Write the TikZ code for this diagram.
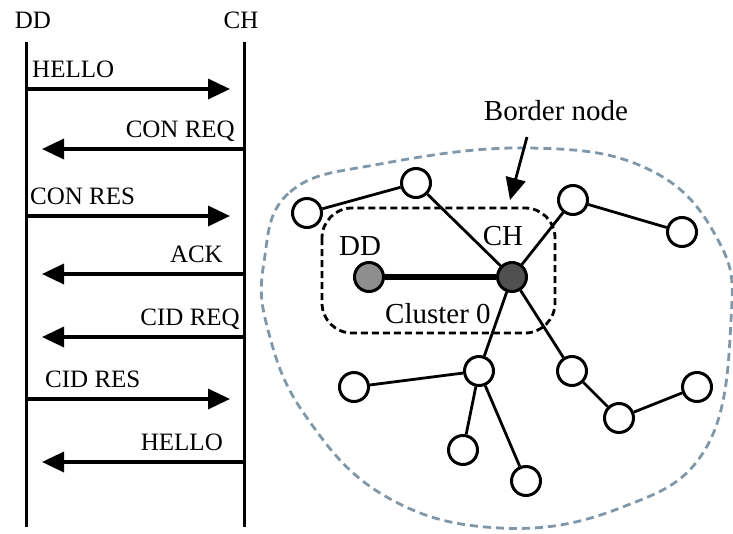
\documentclass[tikz,border=0pt]{standalone}
\usepackage{fontspec}
\setmainfont{Liberation Serif}
\usetikzlibrary{arrows.meta, positioning}
\definecolor{colorBorder}{HTML}{7F97A8}
\definecolor{colorDD}{HTML}{8E8E8E}
\definecolor{colorCH}{HTML}{505050}
\tikzset{msgtext/.style={inner sep=0pt, font=\fontsize{25}{30}\selectfont},
  nettext/.style={inner sep=0pt, font=\fontsize{29}{35}\selectfont},
  lifeline/.style={line width=3pt},
  msg/.style={line width=3.5pt, -{Triangle[length=22pt,width=20pt]}},
  sensor/.style={circle, draw, line width=3pt, fill=white, minimum size=29pt, inner sep=0pt},
  link/.style={line width=2.8pt}}

\begin{document}
\begin{tikzpicture}[x=1pt, y=-1pt]
\useasboundingbox (0,0) rectangle (733,533);
% sequence of messages between DD and CH
\node[msgtext, anchor=base] (ddTop) at (33,28) {DD};
\node[msgtext, anchor=base] (chTop) at (241,28) {CH};
\coordinate (ddEnd) at (26,527);
\coordinate (chEnd) at (244,527);
\draw[lifeline] (26,42) -- (ddEnd);
\draw[lifeline] (244,42) -- (chEnd);
\coordinate (m1a) at (26,89);  \coordinate (m1b) at (230,89);
\coordinate (m2a) at (244,149); \coordinate (m2b) at (42,149);
\coordinate (m3a) at (26,216); \coordinate (m3b) at (230,216);
\coordinate (m4a) at (244,274); \coordinate (m4b) at (42,274);
\coordinate (m5a) at (244,337); \coordinate (m5b) at (42,337);
\coordinate (m6a) at (26,399); \coordinate (m6b) at (230,399);
\coordinate (m7a) at (244,462); \coordinate (m7b) at (42,462);
\draw[msg] (m1a) -- (m1b);
\draw[msg] (m2a) -- (m2b);
\draw[msg] (m3a) -- (m3b);
\draw[msg] (m4a) -- (m4b);
\draw[msg] (m5a) -- (m5b);
\draw[msg] (m6a) -- (m6b);
\draw[msg] (m7a) -- (m7b);
\node[msgtext, anchor=base west] (l1) at (32,77) {HELLO};
\node[msgtext, anchor=base east] (l2) at (235,137) {CON REQ};
\node[msgtext, anchor=base west] (l3) at (30,204) {CON RES};
\node[msgtext, anchor=base east] (l4) at (223,262) {ACK};
\node[msgtext, anchor=base east] (l5) at (240,325) {CID REQ};
\node[msgtext, anchor=base west] (l6) at (45,387) {CID RES};
\node[msgtext, anchor=base east] (l7) at (223,450) {HELLO};
% network
\draw[colorBorder, line width=2.8pt, dash pattern=on 8pt off 5pt] plot[smooth cycle, tension=0.7] coordinates {(264,262) (290,192) (380,164) (530,148) (650,170) (718,240) (731,320) (706,448) (620,508) (500,528) (385,496) (305,415) (268,330)};
\draw[line width=2.8pt, dash pattern=on 7pt off 4pt, rounded corners=30pt] (322,208) rectangle (555,333);
\node[sensor] (n1) at (307,213) {};
\node[sensor] (n2) at (416,183) {};
\node[sensor] (n3) at (573,200) {};
\node[sensor] (n4) at (682,232) {};
\node[sensor, fill=colorDD] (dd) at (369,277) {};
\node[sensor, fill=colorCH] (ch) at (512,277) {};
\node[sensor] (n5) at (479,371) {};
\node[sensor] (n6) at (354,387) {};
\node[sensor] (n7) at (572,371) {};
\node[sensor] (n8) at (619,418) {};
\node[sensor] (n9) at (697,387) {};
\node[sensor] (n10) at (463,450) {};
\node[sensor] (n11) at (526,481) {};
\draw[link] (n1) -- (n2);
\draw[link] (n2) -- (ch);
\draw[link] (ch) -- (n3);
\draw[link] (n3) -- (n4);
\draw[line width=6pt] (dd) -- (ch);
\draw[link] (ch) -- (n5);
\draw[link] (ch) -- (n7);
\draw[link] (n5) -- (n6);
\draw[link] (n5) -- (n10);
\draw[link] (n5) -- (n11);
\draw[link] (n7) -- (n8);
\draw[link] (n8) -- (n9);
\node[nettext, anchor=base] (ddLabel) at (360,255) {DD};
\node[nettext, anchor=base] (chLabel) at (503,245) {CH};
\node[nettext, anchor=base west] (cluster) at (385,323) {Cluster 0};
\node[nettext, anchor=base] (border) at (556,120) {Border node};
\coordinate (bnTail) at (527,137);
\coordinate (bnTip) at (510,200);
\draw[line width=2.8pt, -{Triangle[length=22pt,width=20pt]}] (bnTail) -- (bnTip);
\end{tikzpicture}
\end{document}
